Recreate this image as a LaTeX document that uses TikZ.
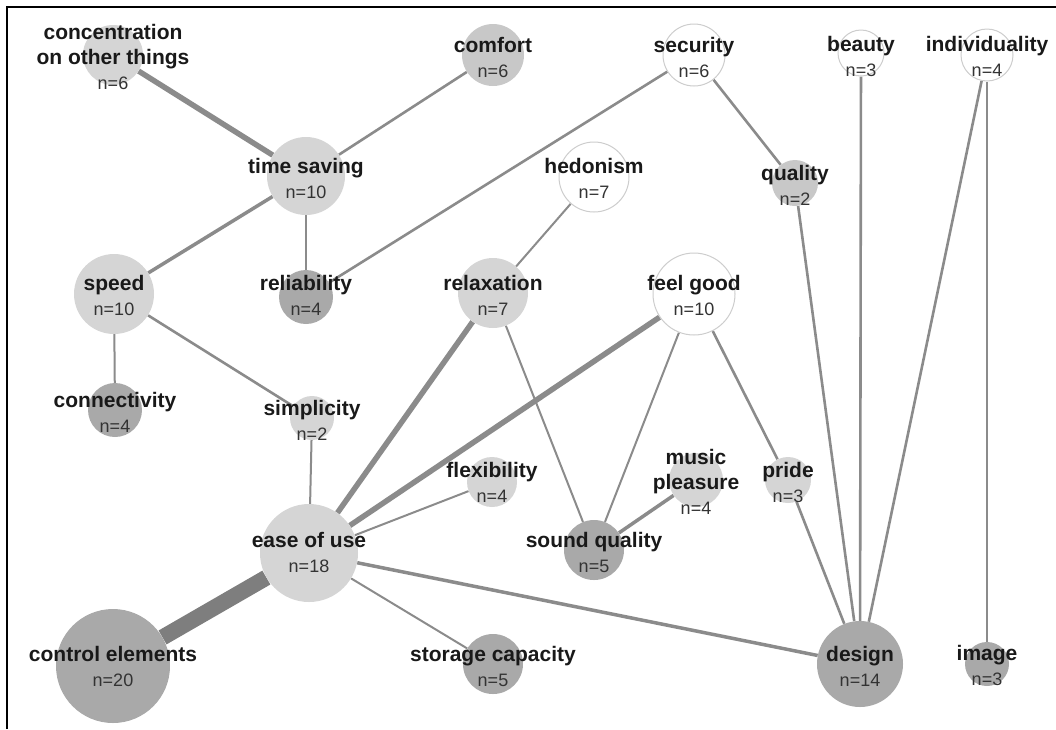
\documentclass[tikz,border=0pt]{standalone}
\usepackage{fontspec}
\setmainfont{Liberation Sans}
\usetikzlibrary{backgrounds}
\definecolor{lightfill}{HTML}{D5D5D5}
\definecolor{midfill}{HTML}{C8C8C8}
\definecolor{darkfill}{HTML}{A9A9A9}
\definecolor{ringcol}{HTML}{CDCDCD}
\definecolor{edgecol}{HTML}{8B8B8B}
\definecolor{edgedark}{HTML}{7E7E7E}
\definecolor{ntext}{HTML}{333333}
\newcommand\nval[1]{{\mdseries\fontsize{18}{25}\selectfont\color{ntext}n=#1}}
\begin{document}
\begin{tikzpicture}[x=1pt,y=-1pt,
  bub/.style={circle,inner sep=0pt,minimum size=#1},
  lightc/.style={fill=lightfill},
  midc/.style={fill=midfill},
  darkc/.style={fill=darkfill},
  whitec/.style={fill=white,draw=ringcol,line width=1pt},
  lbl/.style={align=center,inner sep=0pt,text=black!90,font=\bfseries\fontsize{21}{25}\selectfont},
  ethin/.style={draw=edgecol,line width=2pt},
  enorm/.style={draw=edgecol,line width=2.6pt},
  emed/.style={draw=edgecol,line width=3.5pt},
  ethick/.style={draw=edgecol,line width=5.5pt},
  ehuge/.style={draw=edgedark,line width=16pt}]
\useasboundingbox (0,0) rectangle (1056,729);
\draw[line width=2pt] (7,729) -- (7,7) -- (1056,7);

% circles
\node[bub=60pt,lightc] (conc) at (113,55) {};
\node[bub=62pt,midc] (comfort) at (493,55) {};
\node[bub=62pt,whitec] (security) at (694,55) {};
\node[bub=46pt,whitec] (beauty) at (861,53) {};
\node[bub=52pt,whitec] (indiv) at (987,55) {};
\node[bub=78pt,lightc] (tsave) at (306,176) {};
\node[bub=70pt,whitec] (hedon) at (594,177) {};
\node[bub=46pt,midc] (quality) at (795,183) {};
\node[bub=80pt,lightc] (speed) at (114,294) {};
\node[bub=54pt,darkc] (reliab) at (306,297) {};
\node[bub=70pt,lightc] (relax) at (493,293) {};
\node[bub=82pt,whitec] (feel) at (694,294) {};
\node[bub=54pt,darkc] (connect) at (115,410) {};
\node[bub=44pt,lightc] (simpl) at (312,418) {};
\node[bub=50pt,lightc] (flex) at (492,482) {};
\node[bub=54pt,lightc] (music) at (696,480) {};
\node[bub=46pt,lightc] (pride) at (788,480) {};
\node[bub=98pt,lightc] (ease) at (309,553) {};
\node[bub=60pt,darkc] (sound) at (594,550) {};
\node[bub=114pt,darkc] (control) at (113,666) {};
\node[bub=60pt,darkc] (storage) at (493,664) {};
\node[bub=86pt,darkc] (design) at (860,664) {};
\node[bub=44pt,darkc] (image) at (987,664) {};

% connectors
\begin{scope}[on background layer]
\draw[ethick] (conc) -- (tsave);
\draw[enorm] (comfort) -- (tsave);
\draw[emed] (tsave) -- (speed);
\draw[enorm] (tsave) -- (reliab);
\draw[enorm] (security) -- (reliab);
\draw[enorm] (security) -- (quality);
\draw[ethin] (hedon) -- (relax);
\draw[ethin] (speed) -- (connect);
\draw[enorm] (speed) -- (simpl);
\draw[ethin] (simpl) -- (ease);
\draw[ethick] (relax) -- (ease);
\draw[ethick] (feel) -- (ease);
\draw[ethin] (relax) -- (sound);
\draw[ethin] (feel) -- (sound);
\draw[enorm] (feel) -- (pride);
\draw[ethin] (flex) -- (ease);
\draw[emed] (music) -- (sound);
\draw[ehuge] (ease) -- (control);
\draw[ethin] (ease) -- (storage);
\draw[emed] (ease) -- (design);
\draw[enorm] (quality) -- (design);
\draw[enorm] (beauty) -- (design);
\draw[enorm] (indiv) -- (design);
\draw[enorm] (indiv) -- (image);
\draw[enorm] (pride) -- (design);
\end{scope}

% labels
\node[lbl] (conc-t) at (113,57) {concentration\\on other things\\\nval{6}};
\node[lbl] (comfort-t) at (493,57) {comfort\\\nval{6}};
\node[lbl] (security-t) at (694,57) {security\\\nval{6}};
\node[lbl] (beauty-t) at (861,56) {beauty\\\nval{3}};
\node[lbl] (indiv-t) at (987,56) {individuality\\\nval{4}};
\node[lbl] (tsave-t) at (306,178) {time saving\\\nval{10}};
\node[lbl] (hedon-t) at (594,178) {hedonism\\\nval{7}};
\node[lbl] (quality-t) at (795,185) {quality\\\nval{2}};
\node[lbl] (speed-t) at (114,295) {speed\\\nval{10}};
\node[lbl] (reliab-t) at (306,295) {reliability\\\nval{4}};
\node[lbl] (relax-t) at (493,295) {relaxation\\\nval{7}};
\node[lbl] (feel-t) at (694,295) {feel good\\\nval{10}};
\node[lbl] (connect-t) at (115,412) {connectivity\\\nval{4}};
\node[lbl] (simpl-t) at (312,420) {simplicity\\\nval{2}};
\node[lbl] (flex-t) at (492,482) {flexibility\\\nval{4}};
\node[lbl] (music-t) at (696,482) {music\\pleasure\\\nval{4}};
\node[lbl] (pride-t) at (788,482) {pride\\\nval{3}};
\node[lbl] (ease-t) at (309,552) {ease of use\\\nval{18}};
\node[lbl] (sound-t) at (594,552) {sound quality\\\nval{5}};
\node[lbl] (control-t) at (113,666) {control elements\\\nval{20}};
\node[lbl] (storage-t) at (493,666) {storage capacity\\\nval{5}};
\node[lbl] (design-t) at (860,666) {design\\\nval{14}};
\node[lbl] (image-t) at (987,665) {image\\\nval{3}};
\end{tikzpicture}
\end{document}
